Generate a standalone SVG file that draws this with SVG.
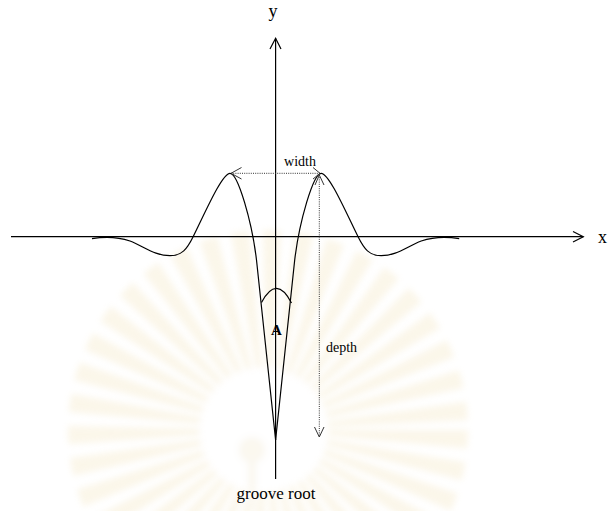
<svg xmlns="http://www.w3.org/2000/svg" width="611" height="511" viewBox="0 0 611 511">
  <style>
    .ax { fill: none; stroke: #000; stroke-width: 1.2; }
    .crv { fill: none; stroke: #000; stroke-width: 1.2; }
    .dot { fill: none; stroke: #333; stroke-width: 1; stroke-dasharray: 1 1.2; }
    .ah { fill: none; stroke: #333; stroke-width: 1; }
    .t { font-family: "Liberation Serif", "Times New Roman", serif; fill: #000; }
  </style>
  <defs>
    <filter id="soft" filterUnits="userSpaceOnUse" x="0" y="180" width="611" height="331">
      <feGaussianBlur stdDeviation="3"/>
    </filter>
  </defs>
  <rect width="611" height="511" fill="#fff"/>

  <g id="watermark" filter="url(#soft)" opacity="0.22">
    <circle cx="268" cy="430" r="130" fill="none" stroke="#eed9a0" stroke-width="140" stroke-dasharray="12 9"/>
    <circle cx="262" cy="430" r="62" fill="#fff"/>
    <circle cx="252" cy="450" r="13" fill="#eee0bb"/>
    <rect x="248" y="460" width="8" height="51" fill="#eee0bb"/>
  </g>

  <g id="axes">
    <path class="ax" d="M11,236.7 H583.3"/>
    <path class="ax" d="M573,231.5 L583.3,236.7 L573,242"/>
    <path class="ax" d="M275.6,479 V38.3"/>
    <path class="ax" d="M270,49 L275.6,38.3 L281,49"/>
  </g>

  <g id="profile">
    <path id="half" class="crv" d="M92,238.7 C105,236.5 118,237 130,241 C145,247 155,255.7 170,255.7 C182,255.7 187,249 193,237 C205,213 222,173.3 230,173.3 C238,173.3 252,222 256.5,260 L275.6,440"/>
    <use href="#half" transform="translate(551.2 0) scale(-1 1)"/>
  </g>

  <g id="angle-A">
    <path class="crv" d="M261.5,302.5 Q276.5,274 291.5,303"/>
    <text class="t" x="276.5" y="335" font-size="15" font-weight="bold" text-anchor="middle">A</text>
  </g>

  <g id="width-dim">
    <path class="dot" d="M231,173.3 H320"/>
    <path class="ah" d="M241.5,167.5 L231,173.3 L241.5,179"/>
    <path class="ah" d="M313,167.5 L320,173.3 L313,179"/>
    <text class="t" x="300" y="166" font-size="14" text-anchor="middle">width</text>
  </g>

  <g id="depth-dim">
    <path class="dot" d="M319.3,175 V437"/>
    <path class="ah" d="M315,185 L319.3,175 L324,185"/>
    <path class="ah" d="M314.5,427 L319.3,437 L324,427"/>
    <text class="t" x="326" y="352" font-size="14">depth</text>
  </g>

  <g id="labels">
    <text class="t" x="273" y="17" font-size="18" text-anchor="middle">y</text>
    <text class="t" x="598" y="243" font-size="18">x</text>
    <text class="t" x="276" y="499" font-size="17" text-anchor="middle">groove root</text>
  </g>
</svg>
